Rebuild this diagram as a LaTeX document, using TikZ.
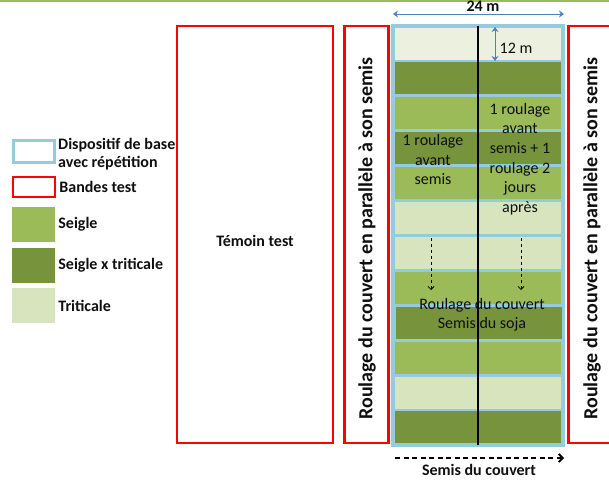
\documentclass[tikz,border=0pt]{standalone}
\usepackage{fontspec}
\setmainfont{Carlito}
\usepackage{tikz}
\usetikzlibrary{arrows.meta,positioning}
\definecolor{dpblue}{RGB}{147,205,221}
\definecolor{dparrow}{RGB}{79,129,189}
\definecolor{dpred}{RGB}{255,0,0}
\definecolor{seigle}{RGB}{155,187,89}
\definecolor{hybride}{RGB}{119,147,60}
\definecolor{triticale}{RGB}{215,228,189}
\definecolor{tripale}{RGB}{235,241,222}
\definecolor{dpink}{RGB}{15,15,15}
\tikzset{
  band/.style={draw=none, inner sep=0pt, minimum width=166, minimum height=32},
  bs/.style={band, fill=seigle},
  bh/.style={band, fill=hybride},
  bt/.style={band, fill=triticale},
  bp/.style={band, fill=tripale},
  testbox/.style={draw=dpred, line width=2.4pt, inner sep=0pt, minimum height=417},
  swatch/.style={draw=none, inner sep=0pt, minimum width=43, minimum height=35},
  legtxt/.style={inner sep=0pt, align=left, font=\fontsize{16}{18}\selectfont\bfseries, text=dpink},
  txt/.style={inner sep=0pt, align=center, font=\fontsize{16}{19.6}\selectfont, text=dpink},
  btxt/.style={inner sep=0pt, align=center, font=\fontsize{16}{19}\selectfont\bfseries, text=dpink},
  vtxt/.style={inner sep=0pt, rotate=90, font=\fontsize{20}{22}\selectfont\bfseries, text=dpink},
  dim/.style={{Stealth[length=5pt,width=7pt]}-{Stealth[length=5pt,width=7pt]}, draw=dparrow, line width=0.9pt},
  darr/.style={-{Straight Barb[length=3pt,width=6pt]}, draw=black, dashed, line width=0.8pt},
  sens/.style={-{Straight Barb[length=4pt,width=8pt]}, draw=black, line width=1.8pt, dash pattern=on 5pt off 3.5pt}
}

\begin{document}
\begin{tikzpicture}[x=1pt, y=-1pt]
  \useasboundingbox (0,0) rectangle (609,482);
  \clip (0,0) rectangle (609,482);
  % ligne du haut
  \coordinate (hl) at (0,1);
  \coordinate (hr) at (609,1);
  \draw[seigle, line width=1.5pt] (hl) -- (hr);

  % bandes test
  \node[testbox, minimum width=156] (temoin) at (255,234.5) {};
  \node[btxt] (temointxt) at (255,241) {Témoin test};
  \node[testbox, minimum width=44] (bandeg) at (366.3,234.5) {};
  \node[testbox, minimum width=90] (banded) at (613.5,234.5) {};
  \node[vtxt] (rgauche) at (367,238.5) {Roulage du couvert en parallèle à son semis};
  \node[vtxt] (rdroite) at (592,238.5) {Roulage du couvert en parallèle à son semis};

  % dispositif de base
  \node[fill=dpblue, inner sep=0pt, minimum width=174, minimum height=423] (base) at (478,235.5) {};
  \node[bp] (r1) at (477.5,43.5) {};
  \node[bh] (r2) at (477.5,78.4) {};
  \node[bs] (r3) at (477.5,113.3) {};
  \node[bh] (r4) at (477.5,148.2) {};
  \node[bs] (r5) at (477.5,183.1) {};
  \node[bt] (r6) at (477.5,218) {};
  \node[bt] (r7) at (477.5,252.9) {};
  \node[bs] (r8) at (477.5,287.8) {};
  \node[bh] (r9) at (478.5,322.7) {};
  \node[bs] (r10) at (477.5,357.6) {};
  \node[bt] (r11) at (477.5,392.5) {};
  \node[bh] (r12) at (477.5,427.4) {};
  \coordinate (axe1) at (477.5,26);
  \coordinate (axe2) at (477.5,445);
  \draw[black, line width=2pt] (axe1) -- (axe2);

  % cotes
  \coordinate (l1) at (393,14);
  \coordinate (l2) at (564,14);
  \draw[dim] (l1) -- (l2);
  \node[btxt, anchor=base] (larg) at (483,11.7) {24 m};
  \coordinate (h1) at (495,27);
  \coordinate (h2) at (495,61);
  \draw[dim] (h1) -- (h2);
  \node[txt] (haut) at (516,48) {12 m};

  % modalites
  \node[txt] (mod1) at (433,159.5) {1 roulage\\avant\\semis};
  \node[txt] (mod2) at (520,159) {1 roulage\\avant\\semis + 1\\roulage 2\\jours\\après};
  \coordinate (f1a) at (431,238);
  \coordinate (f1b) at (431,290);
  \coordinate (f2a) at (521,238);
  \coordinate (f2b) at (521,290);
  \draw[darr] (f1a) -- (f1b);
  \draw[darr] (f2a) -- (f2b);
  \node[txt, font=\fontsize{16}{19}\selectfont] (soja) at (482,314.5) {Roulage du couvert\\Semis du soja};

  % semis du couvert
  \coordinate (s1) at (395,458);
  \coordinate (s2) at (564,458);
  \draw[sens] (s1) -- (s2);
  \node[btxt] (semis) at (479,470) {Semis du couvert};

  % legende
  \node[draw=dpblue, line width=3pt, inner sep=0pt, minimum width=41, minimum height=22] (legbase) at (33.5,151) {};
  \node[draw=dpred, line width=2.4pt, inner sep=0pt, minimum width=42, minimum height=20] (legtest) at (34,187) {};
  \node[swatch, fill=seigle] (legs) at (33.5,224.5) {};
  \node[swatch, fill=hybride] (legh) at (33.5,265) {};
  \node[swatch, fill=triticale] (legt) at (33.5,305.5) {};
  \node[legtxt, anchor=west] (tbase) at (58,154) {Dispositif de base\\avec répétition};
  \node[legtxt, right=3pt of legtest] (ttest) {Bandes test};
  \node[legtxt, right=3pt of legs] (ts) {Seigle};
  \node[legtxt, right=3pt of legh] (th) {Seigle x triticale};
  \node[legtxt, right=3pt of legt] (tt) {Triticale};
\end{tikzpicture}
\end{document}
